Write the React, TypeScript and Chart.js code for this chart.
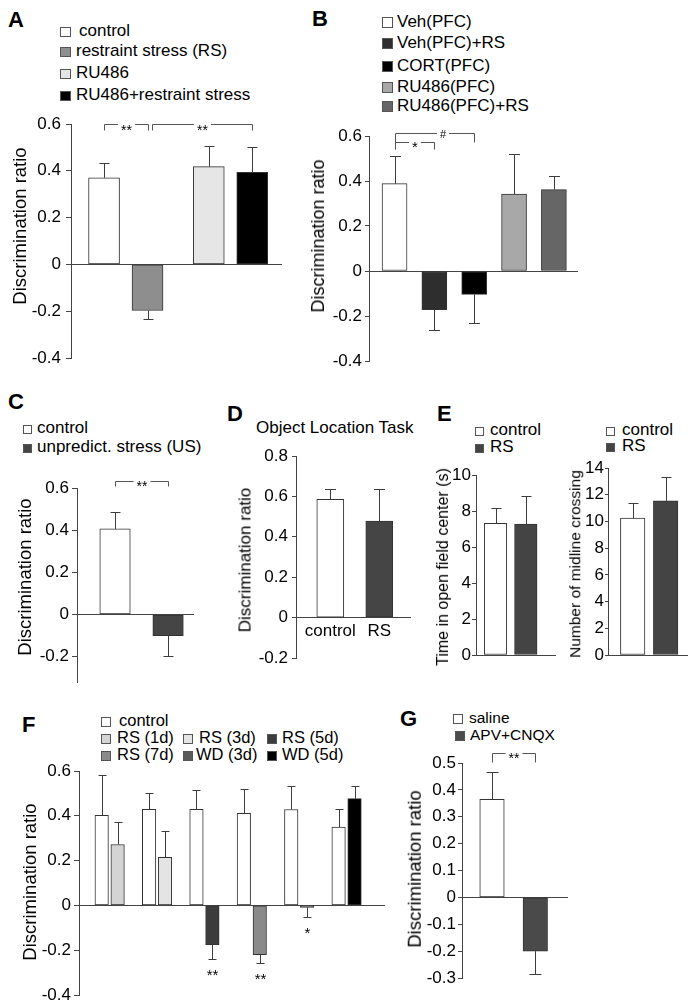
import React, { useEffect, useRef } from 'react';
import { Chart, registerables } from 'chart.js';

Chart.register(...registerables);

const FONT = '"Liberation Sans", Arial, Helvetica, sans-serif';
Chart.defaults.font.family = FONT;
Chart.defaults.color = '#000';

const AXIS = '#444444';
const EDGE = '#333333';
const ERR = '#3c3c3c';

// ---------- Panel A ----------
const aBars = ['control', 'restraint stress (RS)', 'RU486', 'RU486+restraint stress'];
const aValues = [0.37, -0.197, 0.418, 0.393];
const aErrors = [0.065, 0.035, 0.09, 0.11];
const aColors = ['#ffffff', '#8e8e8e', '#e6e6e6', '#000000'];
const aTicks = [-0.4, -0.2, 0, 0.2, 0.4, 0.6];
const aBrackets = [
  { from: 0, to: 1, y: 0.6, text: '**', drop: 6, size: 14, textDy: 3 },
  { from: 1, to: 3, y: 0.6, text: '**', drop: 6, size: 14, textDy: 3, dxFrom: 4 },
];

// ---------- Panel B ----------
const bBars = ['Veh(PFC)', 'Veh(PFC)+RS', 'CORT(PFC)', 'RU486(PFC)', 'RU486(PFC)+RS'];
const bValues = [0.388, -0.172, -0.104, 0.342, 0.362];
const bErrors = [0.122, 0.092, 0.127, 0.18, 0.062];
const bColors = ['#ffffff', '#2e2e2e', '#000000', '#a8a8a8', '#666666'];
const bTicks = [-0.4, -0.2, 0, 0.2, 0.4, 0.6];
const bBrackets = [
  { from: 0, to: 1, y: 0.573, text: '*', dropL: 7, dropR: 7, size: 15, textDy: 2 },
  { from: 0, to: 2, y: 0.615, text: '#', dropL: 16, dropR: 9, size: 11, textDy: 0, textDx: 8 },
];

// ---------- Panel C ----------
const cBars = ['control', 'unpredict. stress (US)'];
const cValues = [0.406, -0.1];
const cErrors = [0.081, 0.095];
const cColors = ['#ffffff', '#454545'];
const cTicks = [-0.2, 0, 0.2, 0.4, 0.6];
const cBrackets = [{ from: 0, to: 1, y: 0.633, text: '**', drop: 5, size: 14, textDy: 2 }];

// ---------- Panel D ----------
const dTitle = 'Object Location Task';
const dBars = ['control', 'RS'];
const dValues = [0.586, 0.478];
const dErrors = [0.051, 0.159];
const dColors = ['#ffffff', '#454545'];
const dTicks = [-0.2, 0, 0.2, 0.4, 0.6, 0.8];

// ---------- Panel E ----------
const eBars = ['control', 'RS'];
const eColors = ['#ffffff', '#444444'];
const e1Values = [7.32, 7.28];
const e1Errors = [0.86, 1.55];
const e1Ticks = [0, 2, 4, 6, 8, 10];
const e2Values = [10.25, 11.54];
const e2Errors = [1.12, 1.77];
const e2Ticks = [0, 2, 4, 6, 8, 10, 12, 14];

// ---------- Panel F ----------
const fSeries = ['control', 'RS (1d)', 'RS (3d)', 'RS (5d)', 'RS (7d)', 'WD (3d)', 'WD (5d)'];
const fSeriesColors = ['#ffffff', '#d4d4d4', '#e4e4e4', '#3c3c3c', '#8a8a8a', '#5a5a5a', '#000000'];
const fBarSeries = [0, 1, 0, 2, 0, 3, 0, 4, 0, 5, 0, 6];
const fValues = [0.402, 0.272, 0.429, 0.215, 0.429, -0.175, 0.411, -0.22, 0.428, -0.009, 0.35, 0.477];
const fErrors = [0.178, 0.102, 0.074, 0.119, 0.088, 0.066, 0.11, 0.037, 0.104, 0.041, 0.08, 0.056];
const fStars = ['', '', '', '', '', '**', '', '**', '', '*', '', ''];
const fTicks = [-0.4, -0.2, 0, 0.2, 0.4, 0.6];

// ---------- Panel G ----------
const gBars = ['saline', 'APV+CNQX'];
const gValues = [0.365, -0.2];
const gErrors = [0.103, 0.086];
const gColors = ['#ffffff', '#4a4a4a'];
const gTicks = [-0.3, -0.2, -0.1, 0, 0.1, 0.2, 0.3, 0.4, 0.5];
const gBrackets = [{ from: 0, to: 1, y: 0.539, text: '**', drop: 9, size: 14, textDy: 2 }];

const fmt = (v: number) => String(Math.round(v * 1000) / 1000);

type Bracket = {
  from: number; to: number; y: number; text: string;
  drop?: number; dropL?: number; dropR?: number;
  dxFrom?: number; dxTo?: number; textDx?: number; textDy?: number; size?: number;
};

type Spec = {
  area: number[];
  yMin: number; yMax: number; ticks: number[];
  xMin: number; xMax: number; slots: number; slotStep: number;
  barPx: number; capPx: number;
  values: number[]; errors: number[]; colors: string[];
  brackets?: Bracket[]; stars?: string[]; xLabels?: string[];
  tickSize: number; tickLen: number; tickPad: number;
};

const specA: Spec = { area: [71, 281, 124, 358], yMin: -0.4, yMax: 0.6, ticks: aTicks, xMin: -0.523, xMax: 1.482, slots: 2, slotStep: 0.415, barPx: 31, capPx: 10, values: aValues, errors: aErrors, colors: aColors, brackets: aBrackets, tickSize: 17, tickLen: 5, tickPad: 5 };
const specB: Spec = { area: [369, 577, 136, 361], yMin: -0.4, yMax: 0.6, ticks: bTicks, xMin: -0.641, xMax: 4.58, slots: 1, slotStep: 0, barPx: 25, capPx: 11, values: bValues, errors: bErrors, colors: bColors, brackets: bBrackets, tickSize: 17, tickLen: 4, tickPad: 3 };
const specC: Spec = { area: [77, 193, 488, 682], yMin: -0.32, yMax: 0.6, ticks: cTicks, xMin: -0.717, xMax: 1.47, slots: 1, slotStep: 0, barPx: 30.5, capPx: 10, values: cValues, errors: cErrors, colors: cColors, brackets: cBrackets, tickSize: 17, tickLen: 5, tickPad: 3 };
const specD: Spec = { area: [296, 410, 456, 658], yMin: -0.2, yMax: 0.8, ticks: dTicks, xMin: -0.7, xMax: 1.627, slots: 1, slotStep: 0, barPx: 27, capPx: 11, values: dValues, errors: dErrors, colors: dColors, xLabels: dBars, tickSize: 17, tickLen: 4, tickPad: 4 };
const specE1: Spec = { area: [476, 555, 475, 655], yMin: 0, yMax: 10, ticks: e1Ticks, xMin: -0.644, xMax: 1.964, slots: 1, slotStep: 0, barPx: 22.5, capPx: 10, values: e1Values, errors: e1Errors, colors: eColors, tickSize: 17, tickLen: 4, tickPad: 1 };
const specE2: Spec = { area: [608, 687, 468, 655], yMin: 0, yMax: 14, ticks: e2Ticks, xMin: -0.749, xMax: 1.648, slots: 1, slotStep: 0, barPx: 24.5, capPx: 10, values: e2Values, errors: e2Errors, colors: eColors, tickSize: 17, tickLen: 3, tickPad: 1 };
const specF: Spec = { area: [79, 384, 771, 995], yMin: -0.4, yMax: 0.6, ticks: fTicks, xMin: -0.647, xMax: 5.79, slots: 2, slotStep: 0.336, barPx: 13.5, capPx: 8, values: fValues, errors: fErrors, colors: fBarSeries.map((k) => fSeriesColors[k]), stars: fStars, tickSize: 17, tickLen: 5, tickPad: 3 };
const specG: Spec = { area: [462, 567, 763, 978], yMin: -0.3, yMax: 0.5, ticks: gTicks, xMin: -0.693, xMax: 1.732, slots: 1, slotStep: 0, barPx: 24.5, capPx: 12, values: gValues, errors: gErrors, colors: gColors, brackets: gBrackets, tickSize: 17, tickLen: 4, tickPad: 2 };

const YW = 70, PT = 30, PR = 12, PB = 30;

function centeredText(ctx: CanvasRenderingContext2D, text: string, x: number, cy: number, size: number) {
  ctx.font = `${size}px ${FONT}`;
  ctx.fillStyle = '#000';
  ctx.textAlign = 'center';
  ctx.textBaseline = 'alphabetic';
  const m = ctx.measureText(text);
  ctx.fillText(text, x, cy + (m.actualBoundingBoxAscent - m.actualBoundingBoxDescent) / 2);
}

function BarPanel({ spec }: { spec: Spec }) {
  const ref = useRef<HTMLCanvasElement>(null);
  const [l, r, t, b] = spec.area;
  const width = YW + (r - l) + PR;
  const height = PT + (b - t) + PB;

  useEffect(() => {
    const s = spec;
    const pos = (i: number) => Math.floor(i / s.slots) + ((i % s.slots) - (s.slots - 1) / 2) * s.slotStep;
    const px = (v: number) => Math.round(v) + 0.5;
    const marks = {
      id: 'marks',
      afterDatasetsDraw(chart: any) {
        const ctx: CanvasRenderingContext2D = chart.ctx;
        const ys = chart.scales.y;
        const bars = chart.getDatasetMeta(0).data;
        ctx.save();
        ctx.lineWidth = 1;
        ctx.strokeStyle = ERR;
        s.values.forEach((v, i) => {
          const x = px(bars[i].x);
          const dir = v < 0 ? -1 : 1;
          const y0 = ys.getPixelForValue(v);
          const y1 = px(ys.getPixelForValue(v + dir * s.errors[i]));
          ctx.beginPath();
          ctx.moveTo(x, y0);
          ctx.lineTo(x, y1);
          ctx.moveTo(x - s.capPx / 2, y1);
          ctx.lineTo(x + s.capPx / 2, y1);
          ctx.stroke();
          const star = s.stars ? s.stars[i] : '';
          if (star) centeredText(ctx, star, x, y1 + 13, 15);
        });
        (s.brackets || []).forEach((br) => {
          const size = br.size || 14;
          const xa = px(bars[br.from].x + (br.dxFrom || 0));
          const xb = px(bars[br.to].x + (br.dxTo || 0));
          const y = px(ys.getPixelForValue(br.y));
          const dl = br.dropL ?? br.drop ?? 6;
          const dr = br.dropR ?? br.drop ?? 6;
          ctx.font = `${size}px ${FONT}`;
          const w = ctx.measureText(br.text).width;
          const tx = (xa + xb) / 2 + (br.textDx || 0);
          const gap = w / 2 + 3;
          ctx.strokeStyle = '#555555';
          ctx.beginPath();
          ctx.moveTo(xa, y + dl);
          ctx.lineTo(xa, y);
          ctx.lineTo(tx - gap, y);
          ctx.moveTo(tx + gap, y);
          ctx.lineTo(xb, y);
          ctx.lineTo(xb, y + dr);
          ctx.stroke();
          centeredText(ctx, br.text, tx, y + (br.textDy ?? 2), size);
        });
        ctx.restore();
      },
    };

    const chart = new Chart(ref.current as HTMLCanvasElement, {
      type: 'bar',
      data: {
        datasets: [
          {
            data: s.values.map((v, i) => ({ x: pos(i), y: v })),
            backgroundColor: s.colors,
            borderColor: EDGE,
            borderWidth: 1,
            borderSkipped: false,
            barThickness: s.barPx,
          } as any,
        ],
      },
      options: {
        animation: false,
        responsive: false,
        events: [],
        layout: { padding: { left: 0, top: PT, right: PR, bottom: PB } },
        plugins: { legend: { display: false }, tooltip: { enabled: false }, title: { display: false } },
        scales: {
          x: {
            type: 'linear',
            min: s.xMin,
            max: s.xMax,
            offset: false,
            bounds: 'data',
            position: { y: 0 } as any,
            grid: { display: false, drawTicks: false, offset: false },
            border: { display: true, color: AXIS, width: 1 },
            ticks: s.xLabels
              ? { display: true, font: { family: FONT, size: 17 }, color: '#000', padding: 4, maxRotation: 0, autoSkip: false, callback: (_v: any, idx: number) => s.xLabels![idx] }
              : { display: false },
            afterBuildTicks: (sc: any) => {
              if (s.xLabels) sc.ticks = s.xLabels.map((_, i) => ({ value: pos(i) }));
            },
          },
          y: {
            type: 'linear',
            min: s.yMin,
            max: s.yMax,
            grid: { display: true, drawOnChartArea: false, drawTicks: true, tickLength: s.tickLen, color: AXIS, lineWidth: 1 },
            border: { display: true, color: AXIS, width: 1 },
            ticks: { font: { family: FONT, size: s.tickSize }, color: '#000', padding: s.tickPad, autoSkip: false, callback: (v: any) => fmt(Number(v)) },
            afterBuildTicks: (sc: any) => {
              sc.ticks = s.ticks.map((v) => ({ value: v }));
            },
            afterFit: (sc: any) => {
              sc.width = YW;
            },
          },
        } as any,
      },
      plugins: [marks],
    });
    return () => chart.destroy();
  }, [spec]);

  return (
    <canvas
      ref={ref}
      width={width}
      height={height}
      style={{ position: 'absolute', left: l - YW, top: t - PT, width, height }}
    />
  );
}

function Txt({ x, base, size, bold, children }: { x: number; base: number; size: number; bold?: boolean; children: any }) {
  return (
    <div
      style={{
        position: 'absolute',
        left: x,
        top: base - 0.8465 * size,
        fontSize: size,
        lineHeight: `${size}px`,
        fontWeight: bold ? 700 : 400,
        whiteSpace: 'nowrap',
        fontFamily: FONT,
        color: '#000',
      }}
    >
      {children}
    </div>
  );
}

function VTxt({ cx, cy, size, children }: { cx: number; cy: number; size: number; children: any }) {
  return (
    <div
      style={{
        position: 'absolute',
        left: cx,
        top: cy,
        transform: 'translate(-50%, -50%) rotate(-90deg)',
        fontSize: size,
        lineHeight: `${size}px`,
        whiteSpace: 'nowrap',
        fontFamily: FONT,
        color: '#000',
      }}
    >
      {children}
    </div>
  );
}

function Item({ bx, tx, base, box, size, color, label }: { bx: number; tx: number; base: number; box: number; size: number; color: string; label: string }) {
  return (
    <>
      <div
        style={{
          position: 'absolute',
          left: bx,
          top: base - box + 1,
          width: box,
          height: box,
          boxSizing: 'border-box',
          border: '1px solid #555',
          background: color,
        }}
      />
      <Txt x={tx} base={base} size={size}>{label}</Txt>
    </>
  );
}

export default function App() {
  const aBase = [36, 56, 78, 100];
  const bBase = [27, 48, 71, 92, 111];
  return (
    <div style={{ position: 'absolute', left: 0, top: 0, width: 694, height: 1008, background: '#fff', overflow: 'hidden', fontFamily: FONT }}>
      {/* panel letters */}
      <Txt x={8} base={28} size={22} bold>A</Txt>
      <Txt x={312} base={27} size={22} bold>B</Txt>
      <Txt x={8} base={410} size={22} bold>C</Txt>
      <Txt x={227} base={422} size={22} bold>D</Txt>
      <Txt x={437} base={422} size={22} bold>E</Txt>
      <Txt x={22} base={733} size={22} bold>F</Txt>
      <Txt x={400} base={727} size={22} bold>G</Txt>

      {/* legends */}
      {aBars.map((lab, i) => (
        <Item key={'a' + i} bx={60} tx={i === 0 ? 79 : 76} base={aBase[i]} box={10.5} size={17} color={aColors[i]} label={lab} />
      ))}
      {bBars.map((lab, i) => (
        <Item key={'b' + i} bx={382} tx={397} base={bBase[i]} box={11} size={17} color={bColors[i]} label={lab} />
      ))}
      {cBars.map((lab, i) => (
        <Item key={'c' + i} bx={23} tx={37} base={[433, 452][i]} box={9} size={17} color={cColors[i]} label={lab} />
      ))}
      <Txt x={256} base={433} size={17}>{dTitle}</Txt>
      {eBars.map((lab, i) => (
        <Item key={'e1' + i} bx={475} tx={490} base={[435, 452][i]} box={9} size={17} color={eColors[i]} label={lab} />
      ))}
      {eBars.map((lab, i) => (
        <Item key={'e2' + i} bx={606} tx={622} base={[435, 451][i]} box={9} size={17} color={eColors[i]} label={lab} />
      ))}
      {fSeries.map((lab, i) => {
        const row = i === 0 ? 0 : Math.floor((i - 1) / 3) + 1;
        const col = i === 0 ? 0 : (i - 1) % 3;
        const bx = [101, 183, 267][col];
        const tx = i === 0 ? 119 : [117, i === 5 ? 196 : 199, 282][col];
        return <Item key={'f' + i} bx={bx} tx={tx} base={726 + row * 17} box={10} size={16.5} color={fSeriesColors[i]} label={lab} />;
      })}
      {gBars.map((lab, i) => (
        <Item key={'g' + i} bx={[453, 455][i]} tx={[469, 470][i]} base={[723, 740][i]} box={10} size={15.5} color={gColors[i]} label={lab} />
      ))}

      {/* charts */}
      <BarPanel spec={specA} />
      <BarPanel spec={specB} />
      <BarPanel spec={specC} />
      <BarPanel spec={specD} />
      <BarPanel spec={specE1} />
      <BarPanel spec={specE2} />
      <BarPanel spec={specF} />
      <BarPanel spec={specG} />

      {/* axis titles */}
      <VTxt cx={20} cy={226} size={18.5}>Discrimination ratio</VTxt>
      <VTxt cx={318} cy={236} size={18}>Discrimination ratio</VTxt>
      <VTxt cx={25} cy={577} size={18.5}>Discrimination ratio</VTxt>
      <VTxt cx={245} cy={560} size={17}>Discrimination ratio</VTxt>
      <VTxt cx={443} cy={567} size={16}>Time in open field center (s)</VTxt>
      <VTxt cx={575} cy={564} size={15.5}>Number of midline crossing</VTxt>
      <VTxt cx={30} cy={882} size={18.5}>Discrimination ratio</VTxt>
      <VTxt cx={415} cy={869} size={18.5}>Discrimination ratio</VTxt>
    </div>
  );
}
